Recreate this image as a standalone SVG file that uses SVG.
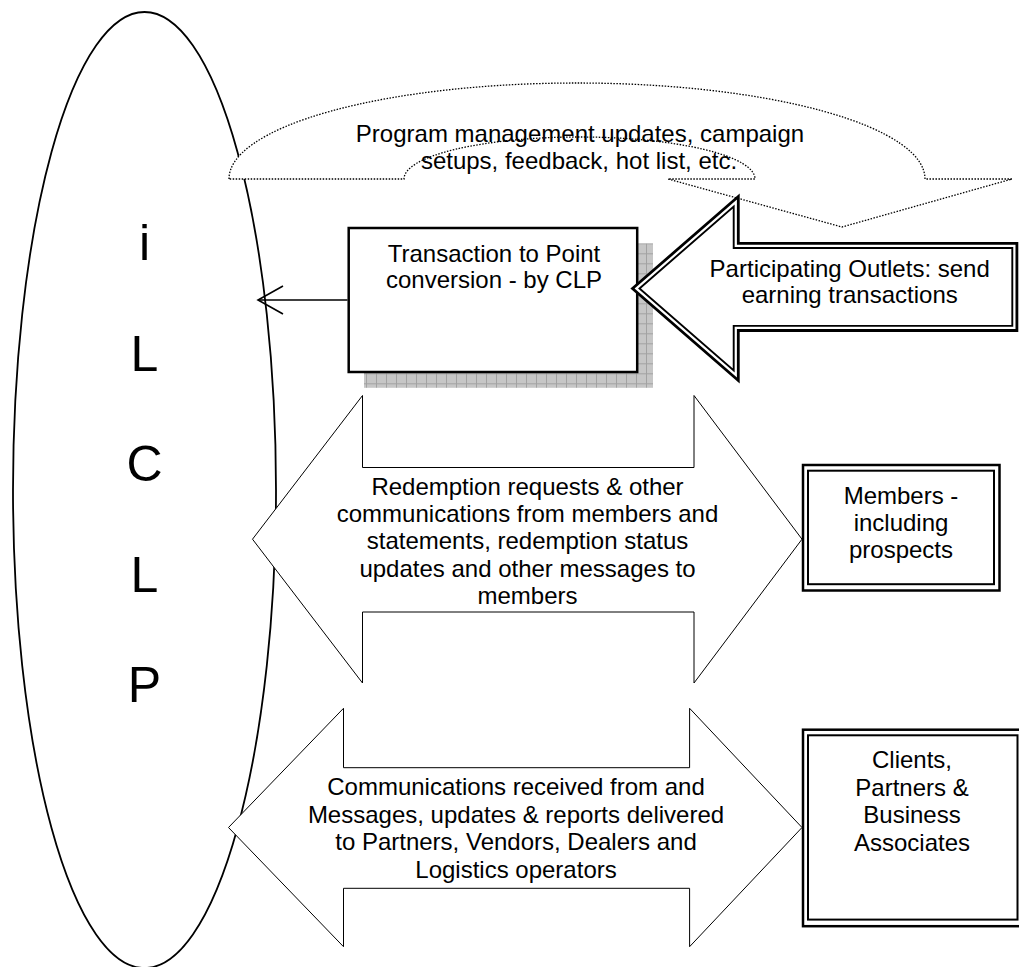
<svg xmlns="http://www.w3.org/2000/svg" width="1019" height="967" viewBox="0 0 1019 967">
  <style>
    .t { font-family: "Liberation Sans", Arial, Helvetica, sans-serif; font-size: 24px; fill: #000; text-anchor: middle; }
    .big { font-size: 50px; }
    .thin { fill: #fff; stroke: #000; stroke-width: 1; stroke-linejoin: miter; }
    .dot { fill: #fff; stroke: #000; stroke-width: 1.3; stroke-dasharray: 1.5 1.5; }
    .dbl-o { fill: #fff; stroke: #000; stroke-width: 2.8; stroke-linejoin: miter; }
    .dbl-i { fill: none; stroke: #000; stroke-width: 1.9; stroke-linejoin: miter; }
    .box { fill: #fff; stroke: #000; stroke-width: 2.5; }
    .conn { fill: none; stroke: #000; stroke-width: 1.6; }
  </style>
  <defs>
    <pattern id="grid" patternUnits="userSpaceOnUse" x="6" y="3.3" width="10" height="10">
      <rect width="10" height="10" fill="#c6c6c6"/>
      <path d="M0 0.5H10M0.5 0V10" stroke="#a2a2a2" stroke-width="1" fill="none"/>
    </pattern>
    <marker id="open" markerUnits="userSpaceOnUse" viewBox="-30 -16 32 32" refX="0" refY="0" markerWidth="32" markerHeight="32" orient="auto" overflow="visible">
      <path d="M-25,-14 L0,0 L-25,14" fill="none" stroke="#000" stroke-width="1.6"/>
    </marker>
  </defs>
  <rect width="1019" height="967" fill="#fff"/>

  <g id="iclp">
    <ellipse cx="144.5" cy="490" rx="131.5" ry="478" fill="#fff" stroke="#000" stroke-width="1.8"/>
    <text class="t big" x="144.5" y="260">i</text>
    <text class="t big" x="144.5" y="370.5">L</text>
    <text class="t big" x="144.5" y="481">C</text>
    <text class="t big" x="144.5" y="591.5">L</text>
    <text class="t big" x="144.5" y="702">P</text>
  </g>

  <g id="program-updates">
    <path class="dot" d="M229,179 A348,96 0 0 1 925,179 L1012,179 L842,227 L668,179 L755,179 A175.5,42 0 0 0 404,179 Z"/>
    <text class="t" x="580" y="142">Program management updates, campaign</text>
    <text class="t" x="579" y="168.5">setups, feedback, hot list, etc.</text>
  </g>

  <g id="transaction">
    <rect x="364" y="243.3" width="289" height="144.5" fill="url(#grid)"/>
    <rect class="box" x="348.7" y="228" width="288.5" height="144"/>
    <text class="t" x="494" y="262">Transaction to Point</text>
    <text class="t" x="494" y="288.3">conversion - by CLP</text>
  </g>

  <g id="outlets">
    <polygon class="dbl-o" points="632.5,288.5 738.3,196.5 738.3,243.4 1016.9,243.4 1016.9,330.5 738.3,330.5 738.3,380.5"/>
    <polygon class="dbl-i" points="639.5,288.5 733.7,206.5 733.7,248 1012.3,248 1012.3,325.9 733.7,325.9 733.7,370.5"/>
    <text class="t" x="849.7" y="277">Participating Outlets: send</text>
    <text class="t" x="849.7" y="302.5">earning transactions</text>
  </g>

  <g id="redemption">
    <polygon class="thin" points="252.5,539.2 362.5,395.5 362.5,467.5 694,467.5 694,395.5 802,539.2 694,683 694,612 362.5,612 362.5,683"/>
    <text class="t" x="527.5" y="495">Redemption requests &amp; other</text>
    <text class="t" x="527.5" y="522.2">communications from members and</text>
    <text class="t" x="527.5" y="549.4">statements, redemption status</text>
    <text class="t" x="527.5" y="576.6">updates and other messages to</text>
    <text class="t" x="527.5" y="603.8">members</text>
  </g>

  <g id="members">
    <rect class="box" x="803" y="465" width="196.5" height="125.5"/>
    <rect x="808" y="470.7" width="186" height="113.5" fill="none" stroke="#000" stroke-width="2"/>
    <text class="t" x="901" y="504">Members -</text>
    <text class="t" x="901" y="531">including</text>
    <text class="t" x="901" y="558">prospects</text>
  </g>

  <g id="communications">
    <polygon class="thin" points="228.5,827.5 343.5,708.3 343.5,767.7 689.6,767.7 689.6,708.3 802,827.5 689.6,946.7 689.6,888.3 343.5,888.3 343.5,946.7"/>
    <text class="t" x="516" y="795">Communications received from and</text>
    <text class="t" x="516" y="822.6">Messages, updates &amp; reports delivered</text>
    <text class="t" x="516" y="850.2">to Partners, Vendors, Dealers and</text>
    <text class="t" x="516" y="877.8">Logistics operators</text>
  </g>

  <g id="clients">
    <rect class="box" x="803" y="729.7" width="219" height="196.5"/>
    <rect x="808" y="735.3" width="209.5" height="184.3" fill="none" stroke="#000" stroke-width="2"/>
    <text class="t" x="912" y="768">Clients,</text>
    <text class="t" x="912" y="795.5">Partners &amp;</text>
    <text class="t" x="912" y="823">Business</text>
    <text class="t" x="912" y="850.5">Associates</text>
  </g>

  <g id="connectors">
    <line class="conn" x1="347.5" y1="300" x2="258" y2="300" marker-end="url(#open)"/>
  </g>
</svg>
